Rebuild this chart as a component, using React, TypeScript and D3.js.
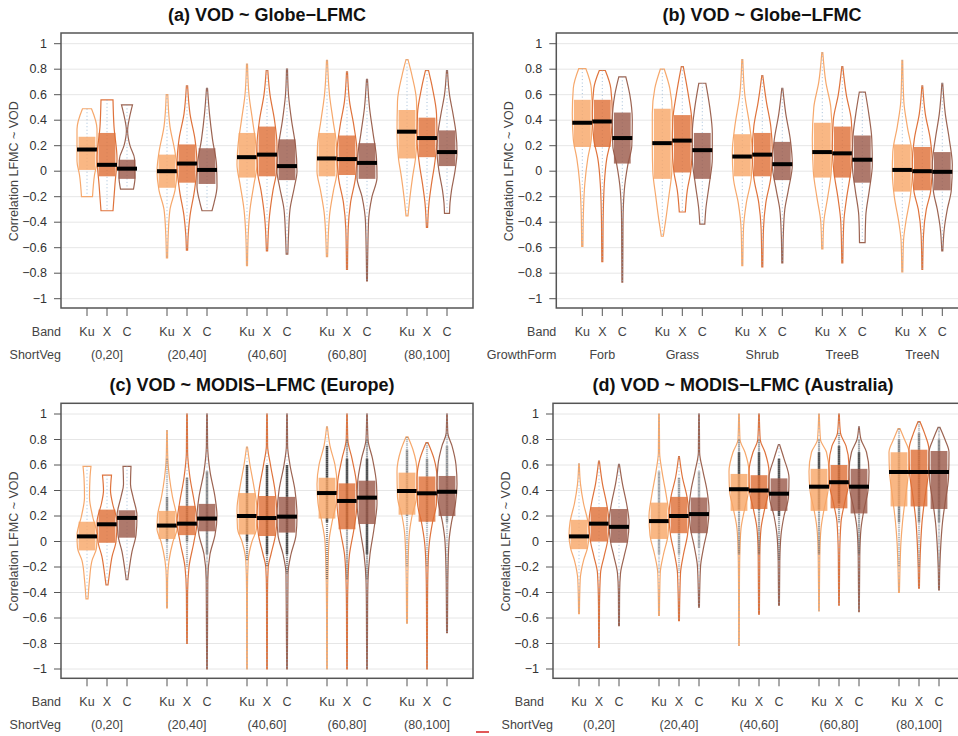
import * as d3 from 'd3';

type Knot = [number, number];
type Stat = [number, number, number];

const bands = ['Ku', 'X', 'C'];
const shortVeg = ['(0,20]', '(20,40]', '(40,60]', '(60,80]', '(80,100]'];
const growthForm = ['Forb', 'Grass', 'Shrub', 'TreeB', 'TreeN'];
const yTicks = [1, 0.8, 0.6, 0.4, 0.2, 0, -0.2, -0.4, -0.6, -0.8, -1];

// box stats per group and band: [q1, median, q3]
const boxA: Stat[][] = [
  [[0.01, 0.17, 0.27], [-0.04, 0.05, 0.3], [-0.06, 0.02, 0.09]],
  [[-0.13, 0.0, 0.13], [-0.09, 0.06, 0.21], [-0.1, 0.01, 0.18]],
  [[-0.05, 0.11, 0.3], [-0.04, 0.13, 0.35], [-0.07, 0.04, 0.25]],
  [[-0.04, 0.1, 0.3], [-0.03, 0.095, 0.28], [-0.06, 0.065, 0.22]],
  [[0.1, 0.31, 0.48], [0.11, 0.26, 0.42], [0.04, 0.15, 0.32]],
];
const boxB: Stat[][] = [
  [[0.19, 0.38, 0.56], [0.19, 0.39, 0.56], [0.06, 0.26, 0.46]],
  [[-0.06, 0.22, 0.49], [-0.01, 0.24, 0.44], [-0.06, 0.165, 0.3]],
  [[-0.04, 0.115, 0.29], [-0.04, 0.13, 0.3], [-0.07, 0.055, 0.23]],
  [[-0.05, 0.15, 0.38], [-0.05, 0.14, 0.35], [-0.09, 0.09, 0.28]],
  [[-0.16, 0.01, 0.21], [-0.15, 0.0, 0.19], [-0.15, -0.005, 0.15]],
];
const boxC: Stat[][] = [
  [[-0.07, 0.04, 0.155], [-0.01, 0.135, 0.25], [0.03, 0.185, 0.245]],
  [[0.02, 0.125, 0.24], [0.05, 0.14, 0.28], [0.08, 0.18, 0.295]],
  [[0.055, 0.2, 0.38], [0.043, 0.184, 0.357], [0.07, 0.195, 0.35]],
  [[0.18, 0.38, 0.5], [0.096, 0.318, 0.456], [0.137, 0.344, 0.477]],
  [[0.21, 0.396, 0.54], [0.155, 0.378, 0.51], [0.2, 0.39, 0.514]],
];
const boxD: Stat[][] = [
  [[-0.06, 0.04, 0.17], [0.0, 0.14, 0.27], [-0.01, 0.115, 0.255]],
  [[0.02, 0.16, 0.305], [0.065, 0.2, 0.35], [0.065, 0.215, 0.345]],
  [[0.24, 0.41, 0.53], [0.255, 0.4, 0.52], [0.24, 0.375, 0.495]],
  [[0.24, 0.43, 0.57], [0.26, 0.465, 0.6], [0.22, 0.43, 0.57]],
  [[0.275, 0.545, 0.7], [0.275, 0.545, 0.72], [0.255, 0.545, 0.71]],
];

// violin outlines, top to bottom: [correlation, relative half width]
const violinA: Knot[][][] = [
  [
    [[0.49, 0.45], [0.33, 1.0], [0.08, 1.0], [-0.03, 0.75], [-0.2, 0.55]],
    [[0.56, 0.6], [0.35, 0.7], [0.1, 1.0], [-0.1, 0.8], [-0.31, 0.6]],
    [[0.52, 0.55], [0.42, 0.25], [0.32, 0.06], [0.2, 0.3], [0.1, 0.75], [-0.05, 0.8], [-0.14, 0.65]],
  ],
  [
    [[0.6, 0.08], [0.35, 0.3], [0.15, 0.8], [0.0, 1.0], [-0.15, 0.8], [-0.3, 0.3], [-0.5, 0.12], [-0.68, 0.06]],
    [[0.67, 0.06], [0.45, 0.3], [0.25, 0.8], [0.05, 1.0], [-0.15, 0.75], [-0.35, 0.3], [-0.5, 0.12], [-0.62, 0.06]],
    [[0.65, 0.05], [0.45, 0.25], [0.25, 0.55], [0.05, 0.95], [-0.12, 1.0], [-0.25, 0.7], [-0.31, 0.5]],
  ],
  [
    [[0.84, 0.05], [0.6, 0.2], [0.4, 0.55], [0.2, 0.9], [0.05, 1.0], [-0.1, 0.7], [-0.3, 0.3], [-0.5, 0.12], [-0.74, 0.05]],
    [[0.79, 0.08], [0.6, 0.3], [0.4, 0.75], [0.2, 1.0], [0.0, 0.95], [-0.15, 0.6], [-0.35, 0.25], [-0.625, 0.06]],
    [[0.8, 0.05], [0.6, 0.15], [0.4, 0.45], [0.2, 0.85], [0.0, 1.0], [-0.12, 0.75], [-0.3, 0.3], [-0.5, 0.15], [-0.65, 0.08]],
  ],
  [
    [[0.87, 0.05], [0.6, 0.25], [0.4, 0.6], [0.2, 0.95], [0.0, 1.0], [-0.15, 0.65], [-0.35, 0.25], [-0.67, 0.06]],
    [[0.78, 0.05], [0.55, 0.25], [0.35, 0.7], [0.15, 1.0], [-0.05, 0.85], [-0.25, 0.35], [-0.45, 0.12], [-0.77, 0.05]],
    [[0.72, 0.05], [0.5, 0.25], [0.3, 0.6], [0.1, 0.95], [-0.05, 1.0], [-0.2, 0.5], [-0.4, 0.15], [-0.86, 0.04]],
  ],
  [
    [[0.875, 0.1], [0.75, 0.5], [0.55, 0.95], [0.3, 1.0], [0.1, 0.85], [-0.05, 0.55], [-0.2, 0.3], [-0.35, 0.1]],
    [[0.79, 0.15], [0.65, 0.55], [0.45, 0.95], [0.25, 1.0], [0.05, 0.75], [-0.1, 0.45], [-0.25, 0.2], [-0.44, 0.06]],
    [[0.79, 0.05], [0.6, 0.25], [0.45, 0.6], [0.3, 0.9], [0.15, 1.0], [0.0, 0.8], [-0.15, 0.45], [-0.25, 0.3], [-0.33, 0.25]],
  ],
];
const violinB: Knot[][][] = [
  [
    [[0.805, 0.35], [0.65, 0.9], [0.45, 1.0], [0.25, 0.9], [0.1, 0.55], [-0.1, 0.25], [-0.3, 0.12], [-0.59, 0.06]],
    [[0.79, 0.3], [0.65, 0.85], [0.45, 1.0], [0.25, 0.85], [0.1, 0.45], [-0.1, 0.2], [-0.4, 0.08], [-0.71, 0.05]],
    [[0.74, 0.35], [0.6, 0.75], [0.4, 1.0], [0.2, 0.95], [0.05, 0.55], [-0.15, 0.2], [-0.4, 0.07], [-0.87, 0.04]],
  ],
  [
    [[0.8, 0.2], [0.65, 0.75], [0.45, 1.0], [0.2, 1.0], [0.0, 0.95], [-0.2, 0.65], [-0.38, 0.35], [-0.51, 0.1]],
    [[0.82, 0.1], [0.6, 0.6], [0.4, 0.95], [0.2, 1.0], [0.0, 0.85], [-0.15, 0.5], [-0.32, 0.3]],
    [[0.69, 0.35], [0.5, 0.75], [0.3, 1.0], [0.1, 1.0], [-0.1, 0.7], [-0.3, 0.35], [-0.415, 0.25]],
  ],
  [
    [[0.875, 0.05], [0.6, 0.25], [0.35, 0.75], [0.15, 1.0], [-0.05, 0.9], [-0.25, 0.4], [-0.45, 0.12], [-0.74, 0.05]],
    [[0.75, 0.05], [0.55, 0.4], [0.35, 0.85], [0.15, 1.0], [-0.05, 0.85], [-0.25, 0.35], [-0.45, 0.12], [-0.75, 0.05]],
    [[0.65, 0.05], [0.45, 0.35], [0.25, 0.8], [0.05, 1.0], [-0.15, 0.6], [-0.3, 0.25], [-0.5, 0.1], [-0.72, 0.05]],
  ],
  [
    [[0.93, 0.05], [0.7, 0.35], [0.5, 0.85], [0.25, 1.0], [0.0, 0.9], [-0.2, 0.55], [-0.4, 0.15], [-0.61, 0.06]],
    [[0.82, 0.05], [0.6, 0.4], [0.4, 0.9], [0.2, 1.0], [0.0, 0.85], [-0.2, 0.45], [-0.4, 0.15], [-0.72, 0.05]],
    [[0.62, 0.3], [0.45, 0.65], [0.25, 0.95], [0.05, 1.0], [-0.15, 0.7], [-0.35, 0.35], [-0.56, 0.28]],
  ],
  [
    [[0.87, 0.04], [0.55, 0.15], [0.35, 0.5], [0.15, 0.95], [0.0, 1.0], [-0.2, 0.8], [-0.4, 0.35], [-0.55, 0.12], [-0.79, 0.05]],
    [[0.67, 0.04], [0.45, 0.3], [0.25, 0.8], [0.05, 1.0], [-0.15, 0.85], [-0.3, 0.4], [-0.5, 0.12], [-0.77, 0.04]],
    [[0.69, 0.04], [0.45, 0.3], [0.25, 0.7], [0.05, 1.0], [-0.15, 0.9], [-0.3, 0.5], [-0.45, 0.2], [-0.625, 0.05]],
  ],
];
const violinC: Knot[][][] = [
  [
    [[0.59, 0.4], [0.5, 0.3], [0.35, 0.25], [0.2, 0.55], [0.05, 1.0], [-0.05, 0.95], [-0.15, 0.5], [-0.3, 0.25], [-0.45, 0.1]],
    [[0.52, 0.45], [0.4, 0.35], [0.3, 0.55], [0.15, 1.0], [0.0, 0.9], [-0.12, 0.5], [-0.25, 0.25], [-0.34, 0.1]],
    [[0.59, 0.4], [0.45, 0.35], [0.35, 0.6], [0.2, 1.0], [0.05, 0.9], [-0.08, 0.5], [-0.2, 0.25], [-0.3, 0.08]],
  ],
  [
    [[0.87, 0.03], [0.65, 0.08], [0.5, 0.25], [0.35, 0.55], [0.2, 0.95], [0.1, 1.0], [0.0, 0.6], [-0.15, 0.2], [-0.3, 0.06], [-0.52, 0.04]],
    [[1.0, 0.03], [0.7, 0.06], [0.5, 0.3], [0.3, 0.75], [0.15, 1.0], [0.0, 0.7], [-0.2, 0.2], [-0.4, 0.06], [-0.8, 0.03]],
    [[1.0, 0.03], [0.75, 0.06], [0.55, 0.3], [0.35, 0.8], [0.2, 1.0], [0.05, 0.8], [-0.1, 0.3], [-0.3, 0.08], [-1.0, 0.03]],
  ],
  [
    [[0.74, 0.05], [0.6, 0.3], [0.45, 0.65], [0.25, 1.0], [0.1, 0.95], [0.0, 0.5], [-0.15, 0.12], [-0.4, 0.04], [-1.0, 0.03]],
    [[1.0, 0.03], [0.75, 0.06], [0.6, 0.35], [0.4, 0.8], [0.2, 1.0], [0.05, 0.85], [-0.1, 0.4], [-0.2, 0.12], [-0.4, 0.05], [-1.0, 0.03]],
    [[1.0, 0.03], [0.75, 0.06], [0.6, 0.3], [0.4, 0.8], [0.2, 1.0], [0.05, 0.9], [-0.1, 0.4], [-0.25, 0.1], [-1.0, 0.03]],
  ],
  [
    [[0.9, 0.04], [0.75, 0.3], [0.6, 0.8], [0.45, 1.0], [0.3, 0.9], [0.15, 0.5], [0.0, 0.2], [-0.3, 0.08], [-0.6, 0.04], [-1.0, 0.03]],
    [[1.0, 0.03], [0.8, 0.08], [0.65, 0.5], [0.45, 0.95], [0.3, 1.0], [0.1, 0.7], [-0.1, 0.25], [-0.3, 0.1], [-0.55, 0.05], [-1.0, 0.03]],
    [[1.0, 0.03], [0.8, 0.1], [0.65, 0.55], [0.45, 0.95], [0.3, 1.0], [0.1, 0.7], [-0.1, 0.3], [-0.3, 0.1], [-0.5, 0.06], [-1.0, 0.03]],
  ],
  [
    [[0.82, 0.1], [0.72, 0.6], [0.55, 1.0], [0.35, 0.95], [0.2, 0.5], [0.05, 0.22], [-0.2, 0.1], [-0.4, 0.06], [-0.64, 0.04]],
    [[0.775, 0.1], [0.65, 0.7], [0.5, 1.0], [0.3, 0.95], [0.15, 0.55], [0.0, 0.25], [-0.2, 0.1], [-0.5, 0.05], [-1.0, 0.03]],
    [[1.0, 0.03], [0.85, 0.08], [0.75, 0.5], [0.6, 0.9], [0.45, 1.0], [0.3, 0.85], [0.15, 0.45], [0.0, 0.2], [-0.3, 0.08], [-0.715, 0.04]],
  ],
];
const violinD: Knot[][][] = [
  [
    [[0.61, 0.03], [0.45, 0.15], [0.3, 0.45], [0.15, 0.9], [0.05, 1.0], [-0.05, 0.85], [-0.15, 0.45], [-0.3, 0.12], [-0.565, 0.04]],
    [[0.63, 0.04], [0.45, 0.35], [0.3, 0.75], [0.15, 1.0], [0.0, 0.85], [-0.12, 0.5], [-0.25, 0.15], [-0.5, 0.05], [-0.83, 0.03]],
    [[0.605, 0.04], [0.45, 0.35], [0.3, 0.75], [0.15, 1.0], [0.0, 0.85], [-0.12, 0.5], [-0.25, 0.15], [-0.4, 0.06], [-0.66, 0.04]],
  ],
  [
    [[1.0, 0.03], [0.7, 0.06], [0.55, 0.3], [0.35, 0.75], [0.2, 1.0], [0.05, 0.9], [-0.1, 0.45], [-0.25, 0.12], [-0.58, 0.04]],
    [[0.665, 0.04], [0.5, 0.35], [0.35, 0.8], [0.2, 1.0], [0.05, 0.85], [-0.1, 0.45], [-0.25, 0.15], [-0.62, 0.04]],
    [[1.0, 0.03], [0.7, 0.06], [0.55, 0.4], [0.4, 0.8], [0.25, 1.0], [0.1, 0.85], [-0.05, 0.45], [-0.2, 0.15], [-0.515, 0.04]],
  ],
  [
    [[1.0, 0.03], [0.8, 0.1], [0.7, 0.6], [0.55, 1.0], [0.4, 0.95], [0.25, 0.55], [0.1, 0.2], [-0.1, 0.08], [-0.4, 0.04], [-0.815, 0.03]],
    [[1.0, 0.03], [0.8, 0.12], [0.7, 0.6], [0.55, 1.0], [0.4, 0.95], [0.25, 0.55], [0.1, 0.2], [-0.1, 0.08], [-0.57, 0.04]],
    [[0.76, 0.06], [0.65, 0.5], [0.5, 1.0], [0.35, 0.95], [0.2, 0.5], [0.05, 0.2], [-0.15, 0.08], [-0.5, 0.04]],
  ],
  [
    [[1.0, 0.03], [0.8, 0.15], [0.7, 0.75], [0.55, 1.0], [0.4, 0.9], [0.25, 0.5], [0.1, 0.2], [-0.1, 0.08], [-0.545, 0.03]],
    [[1.0, 0.03], [0.85, 0.15], [0.75, 0.7], [0.6, 1.0], [0.45, 0.95], [0.3, 0.55], [0.15, 0.2], [-0.1, 0.07], [-0.5, 0.03]],
    [[0.9, 0.03], [0.8, 0.2], [0.7, 0.75], [0.55, 1.0], [0.4, 0.9], [0.25, 0.5], [0.1, 0.2], [-0.1, 0.08], [-0.55, 0.03]],
  ],
  [
    [[0.885, 0.1], [0.8, 0.55], [0.7, 1.0], [0.55, 0.95], [0.35, 0.65], [0.15, 0.35], [0.0, 0.2], [-0.2, 0.1], [-0.4, 0.04]],
    [[0.94, 0.1], [0.85, 0.55], [0.72, 1.0], [0.55, 0.95], [0.35, 0.6], [0.15, 0.3], [0.0, 0.18], [-0.2, 0.08], [-0.365, 0.04]],
    [[0.895, 0.1], [0.8, 0.6], [0.7, 1.0], [0.5, 0.95], [0.3, 0.6], [0.15, 0.35], [0.0, 0.2], [-0.2, 0.08], [-0.38, 0.04]],
  ],
];

// how dense the jittered points are inside each group's violins (0 = sparse)
const pointDensityA = [0, 0, 0, 0, 0];
const pointDensityB = [0, 0, 0, 0, 0];
const pointDensityC = [0, 0.6, 1, 1, 0.5];
const pointDensityD = [0, 0.4, 1, 1, 0.6];

const lineColors = ['#f6a86c', '#df733c', '#9c6452'];
const boxColors = ['#f7a565', '#de6e34', '#9a5847'];
const font = 'Liberation Sans, Arial, Helvetica, sans-serif';

const panels = [
  { title: '(a) VOD ~ Globe\u2212LFMC', titleX: 267, left: 61, top: 33, groupName: 'ShortVeg', groups: shortVeg, boxes: boxA, violins: violinA, density: pointDensityA, bandX: 61 },
  { title: '(b) VOD ~ Globe\u2212LFMC', titleX: 762, left: 556.3, top: 33, groupName: 'GrowthForm', groups: growthForm, boxes: boxB, violins: violinB, density: pointDensityB, bandX: 556.3 },
  { title: '(c)  VOD ~ MODIS\u2212LFMC (Europe)', titleX: 252, left: 61, top: 403.3, groupName: 'ShortVeg', groups: shortVeg, boxes: boxC, violins: violinC, density: pointDensityC, bandX: 61 },
  { title: '(d)  VOD ~ MODIS\u2212LFMC (Australia)', titleX: 743, left: 553, top: 403.3, groupName: 'ShortVeg', groups: shortVeg, boxes: boxD, violins: violinD, density: pointDensityD, bandX: 544 },
];

function Panel({ p }: { p: typeof panels[number] }) {
  const x = d3.scaleLinear().domain([-0.3, 20.3]).range([p.left, p.left + 412]);
  const y = d3.scaleLinear().domain([-1, 1]).range([p.top + 265.7, p.top + 10.7]);
  const bottom = p.top + 275;
  const pos = (g: number, b: number) => g * 4 + b + 1;

  const items: any[] = [];
  p.groups.forEach((_, g) => {
    bands.forEach((_, b) => {
      const c = pos(g, b);
      const knots = p.violins[g][b];
      const [q1, med, q3] = p.boxes[g][b];
      const area = d3
        .area<Knot>()
        .y((d) => y(d[0]))
        .x0((d) => x(c - 0.5 * d[1]))
        .x1((d) => x(c + 0.5 * d[1]))
        .curve(d3.curveMonotoneY);
      const dens = p.density[g];
      const dense = knots.filter((k) => k[1] >= 0.08);
      const core = knots.filter((k) => k[1] >= 0.3);
      items.push(
        <g key={`${g}-${b}`}>
          <path d={area(knots) || ''} fill="none" stroke={lineColors[b]} strokeWidth={1.2} />
          <line x1={x(c)} x2={x(c)} y1={y(knots[0][0])} y2={y(knots[knots.length - 1][0])}
            stroke="#8fb0d0" strokeWidth={1} strokeDasharray="1 2.5" opacity={0.8} />
          {dens > 0 && dense.length > 1 && (
            <line x1={x(c)} x2={x(c)} y1={y(dense[0][0])} y2={y(dense[dense.length - 1][0])}
              stroke="#3a3a3a" strokeWidth={2.2} strokeDasharray="1.2 0.8" opacity={0.55 * dens} />
          )}
          {dens > 0 && core.length > 1 && (
            <line x1={x(c)} x2={x(c)} y1={y(core[0][0])} y2={y(core[core.length - 1][0])}
              stroke="#1a1a1a" strokeWidth={2.6} opacity={0.6 * dens} />
          )}
          <rect x={x(c - 0.42)} width={x(c + 0.42) - x(c - 0.42)} y={y(q3)} height={y(q1) - y(q3)}
            fill={boxColors[b]} fillOpacity={0.8} />
          <line x1={x(c - 0.5)} x2={x(c + 0.5)} y1={y(med)} y2={y(med)} stroke="#000" strokeWidth={4} />
        </g>
      );
    });
  });

  return (
    <g fontFamily={font}>
      <text x={p.titleX} y={p.top - 18} textAnchor="middle" dominantBaseline="central" fontSize={18} fontWeight="bold" fill="#111">
        {p.title}
      </text>
      {yTicks.map((t) => (
        <line key={`g${t}`} x1={p.left} x2={p.left + 412} y1={y(t)} y2={y(t)} stroke="#e6e6e6" strokeWidth={1} />
      ))}
      {items}
      <rect x={p.left} y={p.top} width={412} height={275} fill="none" stroke="#555" strokeWidth={1.5} />
      {yTicks.map((t) => (
        <g key={`t${t}`}>
          <line x1={p.left - 7} x2={p.left} y1={y(t)} y2={y(t)} stroke="#555" />
          <text x={p.left - 14} y={y(t)} textAnchor="end" dominantBaseline="central" fontSize={12.5} fill="#333">
            {t < 0 ? `\u2212${Math.abs(t)}` : `${t}`}
          </text>
        </g>
      ))}
      <text transform={`translate(${p.left - 47},${y(0)}) rotate(-90)`} textAnchor="middle" dominantBaseline="central" fontSize={12.5} fill="#444">
        Correlation LFMC ~ VOD
      </text>
      {p.groups.map((label, g) => (
        <g key={label}>
          {bands.map((band, b) => (
            <g key={band}>
              <line x1={x(pos(g, b))} x2={x(pos(g, b))} y1={bottom} y2={bottom + 8} stroke="#555" />
              <text x={x(pos(g, b))} y={bottom + 24} textAnchor="middle" dominantBaseline="central" fontSize={12.5} fill="#444">
                {band}
              </text>
            </g>
          ))}
          <text x={x(pos(g, 1))} y={bottom + 47} textAnchor="middle" dominantBaseline="central" fontSize={12.5} fill="#444">
            {label}
          </text>
        </g>
      ))}
      <text x={p.bandX} y={bottom + 24} textAnchor="end" dominantBaseline="central" fontSize={12.5} fill="#444">Band</text>
      <text x={p.left} y={bottom + 47} textAnchor="end" dominantBaseline="central" fontSize={12.5} fill="#444">{p.groupName}</text>
    </g>
  );
}

export default function App() {
  return (
    <div style={{ position: 'fixed', left: 0, top: 0 }}>
      <svg width={958} height={736} style={{ display: 'block', background: '#fff' }}>
        {panels.map((p) => (
          <Panel key={p.title} p={p} />
        ))}
        <line x1={476} x2={489} y1={732} y2={732} stroke="#d62020" strokeWidth={1.5} />
      </svg>
    </div>
  );
}
